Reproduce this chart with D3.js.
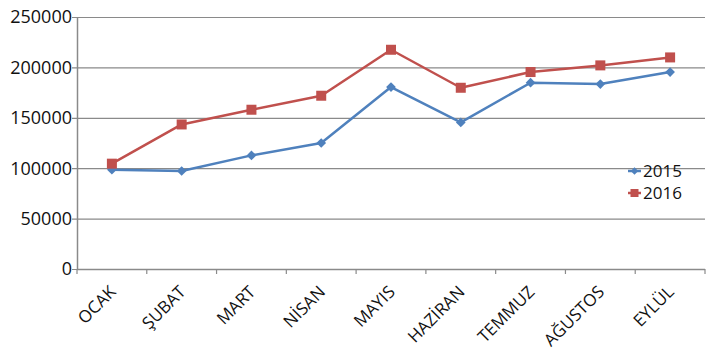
<!DOCTYPE html>
<html><head><meta charset="utf-8">
<script src="https://cdn.jsdelivr.net/npm/d3@7"></script>
<style>body{margin:0;background:#fff}svg{display:block}</style>
</head><body>
<script>
const categories = ["OCAK","ŞUBAT","MART","NİSAN","MAYIS","HAZİRAN","TEMMUZ","AĞUSTOS","EYLÜL"];
const values2015 = [98500,97200,112700,125000,180500,145400,184800,183500,195400];
const values2016 = [104500,143400,158000,171900,217500,179800,195400,202000,209900];
const yTicks = [0,50000,100000,150000,200000,250000];
const seriesNames = ["2015","2016"];

const W=714,H=361;
const m={l:77,r:9,t:17,b:92};
const svg=d3.select("body").append("svg").attr("width",W).attr("height",H);
const font="Open Sans";
const x=d3.scaleBand().domain(categories).range([m.l,W-m.r]);
const y=d3.scaleLinear().domain([0,250000]).range([H-m.b,m.t]);

// gridlines
svg.append("g").selectAll("line").data(yTicks).join("line")
 .attr("x1",m.l-5).attr("x2",W-m.r).attr("y1",d=>y(d)+0.5).attr("y2",d=>y(d)+0.5)
 .attr("stroke","#8a8a8a").attr("stroke-width",1.2);
// y axis line
svg.append("line").attr("x1",m.l+0.5).attr("x2",m.l+0.5).attr("y1",y(250000)).attr("y2",y(0))
 .attr("stroke","#8a8a8a").attr("stroke-width",1.5);
// y labels
svg.append("g").selectAll("text").data(yTicks).join("text")
 .attr("x",m.l-5).attr("y",d=>y(d)).attr("dy","0.36em").attr("text-anchor","end")
 .attr("font-family",font).attr("font-size",18).attr("fill","#111").text(d=>d);
// x ticks
const bounds=categories.map(c=>x(c)).concat([W-m.r]);
svg.append("g").selectAll("line").data(bounds).join("line")
 .attr("x1",d=>d).attr("x2",d=>d).attr("y1",y(0)).attr("y2",y(0)+5)
 .attr("stroke","#8a8a8a").attr("stroke-width",1.2);
svg.append("line").attr("x1",m.l).attr("x2",W-m.r).attr("y1",y(0)+0.5).attr("y2",y(0)+0.5)
 .attr("stroke","#8a8a8a").attr("stroke-width",1.5);
// x labels
svg.append("g").selectAll("text").data(categories).join("text")
 .attr("transform",d=>`translate(${x(d)+x.bandwidth()/2+5},${y(0)+24}) rotate(-45)`)
 .attr("text-anchor","end")
 .attr("font-family",font).attr("font-size",17).attr("fill","#111").text(d=>d);

const cx=(d,i)=>x(categories[i])+x.bandwidth()/2;
const line=d3.line().x((d,i)=>cx(d,i)).y(d=>y(d));
const colors=["#4F81BD","#C0504D"];
[values2015,values2016].forEach((vals,si)=>{
  svg.append("path").datum(vals).attr("d",line).attr("fill","none")
   .attr("stroke",colors[si]).attr("stroke-width",2.5).attr("stroke-linejoin","round");
  const g=svg.append("g");
  vals.forEach((v,i)=>{
    if(si===0){
      g.append("path").attr("d",d3.symbol(d3.symbolDiamond2,60)())
       .attr("transform",`translate(${cx(v,i)},${y(v)})`).attr("fill",colors[si]);
    } else {
      g.append("rect").attr("x",cx(v,i)-5).attr("y",y(v)-5).attr("width",10).attr("height",10)
       .attr("fill",colors[si]);
    }
  });
});
// legend
const leg=[{n:seriesNames[0],y:171},{n:seriesNames[1],y:193}];
leg.forEach((l,i)=>{
  svg.append("line").attr("x1",628).attr("x2",641).attr("y1",l.y).attr("y2",l.y)
   .attr("stroke",colors[i]).attr("stroke-width",2.5);
  if(i===0){
    svg.append("path").attr("d",d3.symbol(d3.symbolDiamond2,36)()).attr("transform",`translate(634.5,${l.y})`).attr("fill",colors[i]);
  } else {
    svg.append("rect").attr("x",630.5).attr("y",l.y-4).attr("width",8).attr("height",8).attr("fill",colors[i]);
  }
  svg.append("text").attr("x",643).attr("y",l.y).attr("dy","0.36em")
   .attr("font-family",font).attr("font-size",17).attr("fill","#111").text(l.n);
});
</script>
</body></html>
